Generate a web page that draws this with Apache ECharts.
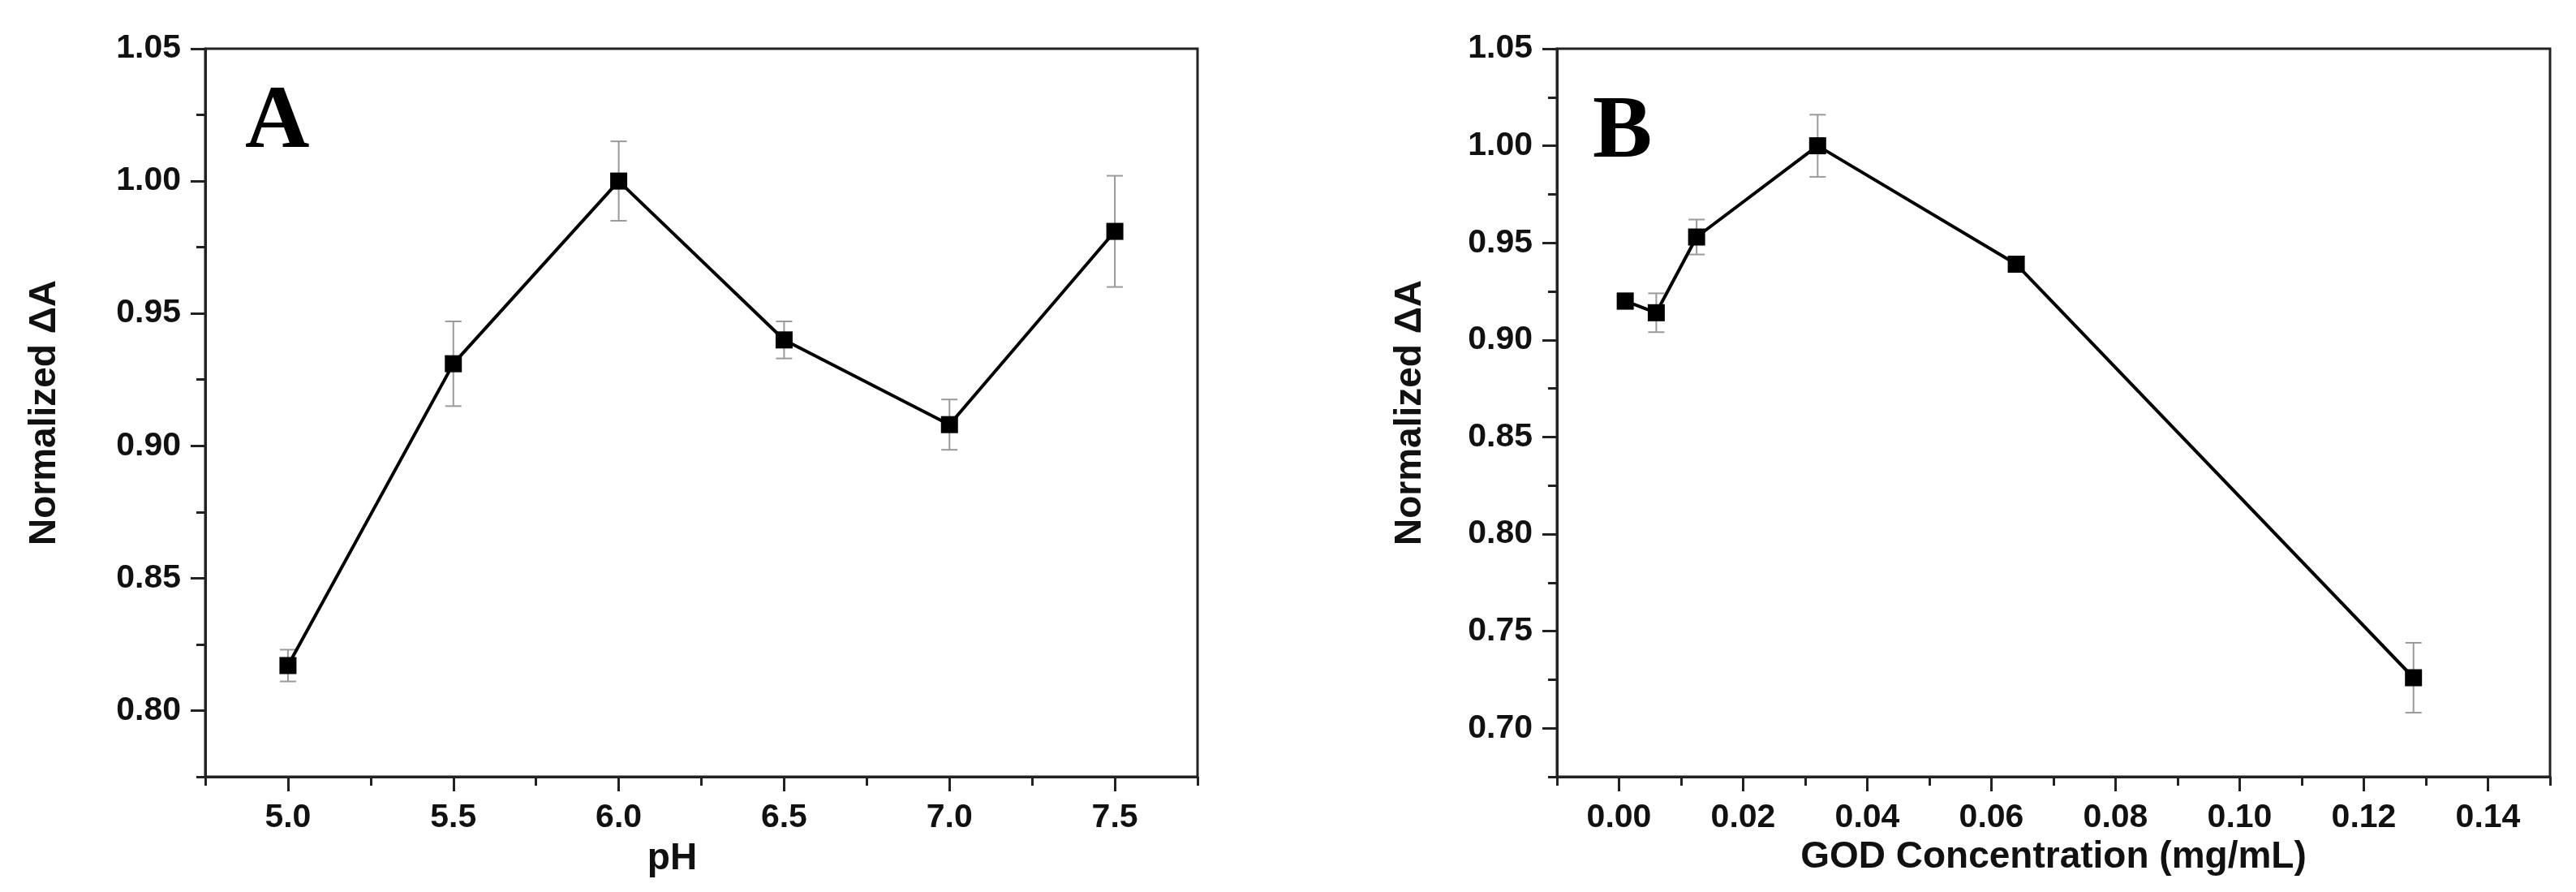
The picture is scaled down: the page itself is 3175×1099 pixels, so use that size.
<!DOCTYPE html>
<html>
<head>
<meta charset="utf-8">
<title>Normalized ΔA</title>
<script src="https://cdn.jsdelivr.net/npm/echarts@6.0.0/dist/echarts.min.js"></script>
<style>
  html, body { margin: 0; padding: 0; background: #fff; }
  #chart { width: 3175px; height: 1099px; }
</style>
</head>
<body>
<div id="chart"></div>
<script>
// panel A: pH
var phValues = [5.0, 5.5, 6.0, 6.5, 7.0, 7.5];
var phMean = [0.817, 0.931, 1.000, 0.940, 0.908, 0.981];
var phErr = [0.006, 0.016, 0.015, 0.007, 0.0095, 0.021];
var phTicks = [5.0, 5.5, 6.0, 6.5, 7.0, 7.5];
var phYTicks = [0.80, 0.85, 0.90, 0.95, 1.00, 1.05];

// panel B: GOD concentration
var godConc = [0.001, 0.006, 0.0125, 0.032, 0.064, 0.128];
var godMean = [0.920, 0.914, 0.953, 1.000, 0.939, 0.726];
var godErr = [0.004, 0.010, 0.009, 0.016, 0.002, 0.018];
var godTicks = [0.00, 0.02, 0.04, 0.06, 0.08, 0.10, 0.12, 0.14];
var godYTicks = [0.70, 0.75, 0.80, 0.85, 0.90, 0.95, 1.00, 1.05];

var axisColor = '#222';
var labelFont = 'Liberation Sans, Arial, sans-serif';

function pairs(xs, ys) {
    return xs.map(function (x, i) { return [x, ys[i]]; });
}
function errRows(xs, ys, es) {
    return xs.map(function (x, i) { return [x, ys[i] - es[i], ys[i] + es[i]]; });
}

// minor-tick axis (draws the line) + major axis (long ticks and labels)
function minorAxis(grid, min, max, step, horizontal) {
    return {
        type: 'value', gridIndex: grid, min: min, max: max, interval: step,
        position: horizontal ? 'bottom' : 'left',
        axisLine: { show: true, onZero: false, lineStyle: { color: axisColor, width: 3 } },
        axisTick: { show: true, inside: false, length: 11, lineStyle: { color: axisColor, width: 3 } },
        axisLabel: { show: false },
        splitLine: { show: false }
    };
}
function majorAxis(grid, min, max, ticks, digits, horizontal, name, gap, pad) {
    return {
        type: 'value', gridIndex: grid, min: min, max: max,
        position: horizontal ? 'bottom' : 'left',
        name: name, nameLocation: 'middle', nameGap: gap,
        nameTextStyle: { fontFamily: labelFont, fontWeight: 'bold', fontSize: 46, color: '#111', padding: pad || 0 },
        axisLine: { show: false, onZero: false },
        axisTick: { show: true, customValues: ticks, length: 18, lineStyle: { color: axisColor, width: 3 } },
        axisLabel: {
            show: true, customValues: ticks, margin: 30,
            fontFamily: labelFont, fontWeight: 'bold', fontSize: 41, color: '#111',
            formatter: function (v) { return v.toFixed(digits); }
        },
        splitLine: { show: false }
    };
}

function errorBars(xi, yi, rows) {
    return {
        type: 'custom', xAxisIndex: xi, yAxisIndex: yi, z: 1,
        data: rows,
        renderItem: function (params, api) {
            var top = api.coord([api.value(0), api.value(2)]);
            var bot = api.coord([api.value(0), api.value(1)]);
            var w = 10;
            var st = { stroke: '#9a9a9a', lineWidth: 2 };
            return {
                type: 'group',
                children: [
                    { type: 'line', shape: { x1: top[0], y1: top[1], x2: bot[0], y2: bot[1] }, style: st },
                    { type: 'line', shape: { x1: top[0] - w, y1: top[1], x2: top[0] + w, y2: top[1] }, style: st },
                    { type: 'line', shape: { x1: bot[0] - w, y1: bot[1], x2: bot[0] + w, y2: bot[1] }, style: st }
                ]
            };
        }
    };
}

function lineSeries(xi, yi, data) {
    return {
        type: 'line', xAxisIndex: xi, yAxisIndex: yi, z: 3,
        data: data,
        symbol: 'rect', symbolSize: 21,
        lineStyle: { color: '#000', width: 4 },
        itemStyle: { color: '#000' },
        animation: false
    };
}

var chart = echarts.init(document.getElementById('chart'));
var option = {
    backgroundColor: '#fff',
    animation: false,
    grid: [
        { left: 253, top: 60, width: 1223, height: 897, show: true, borderColor: axisColor, borderWidth: 3 },
        { left: 1919, top: 60, width: 1224, height: 897, show: true, borderColor: axisColor, borderWidth: 3 }
    ],
    xAxis: [
        minorAxis(0, 4.75, 7.75, 0.25, true),
        majorAxis(0, 4.75, 7.75, phTicks, 1, true, 'pH', 78, [0, 72, 0, 0]),
        minorAxis(1, -0.01, 0.15, 0.01, true),
        majorAxis(1, -0.01, 0.15, godTicks, 2, true, 'GOD Concentration (mg/mL)', 68)
    ],
    yAxis: [
        minorAxis(0, 0.775, 1.05, 0.025, false),
        majorAxis(0, 0.775, 1.05, phYTicks, 2, false, 'Normalized ΔA', 175),
        minorAxis(1, 0.675, 1.05, 0.025, false),
        majorAxis(1, 0.675, 1.05, godYTicks, 2, false, 'Normalized ΔA', 158)
    ],
    graphic: [
        { type: 'text', x: 302, y: 98, style: { text: 'A', font: 'bold 110px "Liberation Serif", "Times New Roman", serif', fill: '#000' } },
        { type: 'text', x: 1963, y: 110, style: { text: 'B', font: 'bold 110px "Liberation Serif", "Times New Roman", serif', fill: '#000' } }
    ],
    series: [
        errorBars(0, 0, errRows(phValues, phMean, phErr)),
        lineSeries(0, 0, pairs(phValues, phMean)),
        errorBars(2, 2, errRows(godConc, godMean, godErr)),
        lineSeries(2, 2, pairs(godConc, godMean))
    ]
};
chart.setOption(option);
</script>
</body>
</html>
